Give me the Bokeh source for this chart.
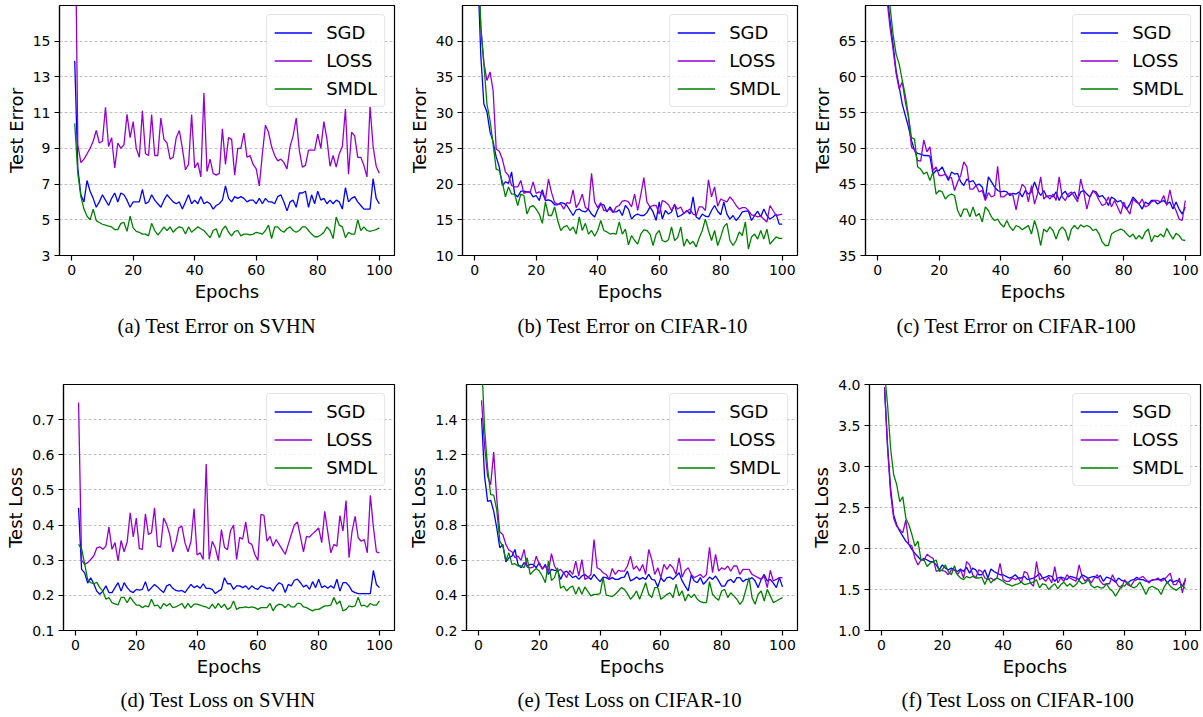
from bokeh.plotting import figure
from bokeh.layouts import column, row
from bokeh.models import FixedTicker, Range1d, Title, PrintfTickFormatter
from bokeh.embed import file_html
from bokeh.resources import INLINE

# ---------------- data ----------------
SERIES_NAMES = ["SGD", "LOSS", "SMDL"]
SERIES_COLORS = ["#0000ff", "#9400d3", "#008000"]
X_TICKS = [0, 20, 40, 60, 80, 100]

# (a) Test Error on SVHN
svhn_err_sgd = [13.9, 7.9, 6.4, 6.0, 7.2, 6.6, 6.2, 5.7, 6.0, 6.4,
                6.1, 5.8, 6.2, 6.5, 6.0, 6.5, 6.4, 6.1, 5.7, 6.0,
                6.0, 6.0, 6.7, 5.9, 6.0, 6.4, 6.1, 5.9, 5.7, 6.1,
                6.4, 6.2, 6.0, 5.9, 6.0, 5.6, 6.0, 6.4, 5.9, 6.1,
                5.9, 6.3, 5.9, 6.0, 5.9, 5.6, 5.8, 5.9, 6.1, 6.9,
                6.2, 6.0, 6.3, 6.2, 6.3, 6.2, 6.0, 6.1, 6.1, 5.9,
                6.2, 5.9, 6.2, 6.0, 6.0, 5.9, 6.3, 6.4, 6.0, 5.5,
                6.0, 6.1, 5.7, 6.5, 6.5, 6.6, 5.7, 6.4, 5.9, 6.6,
                6.1, 6.2, 5.9, 6.1, 5.9, 6.1, 6.0, 5.6, 6.8, 6.0,
                6.2, 6.3, 6.0, 5.8, 5.6, 5.6, 5.6, 7.3, 6.2, 5.9]
svhn_err_loss = [25.0, 9.2, 8.2, 8.4, 8.7, 9.0, 9.4, 10.0, 9.3, 9.4,
                 11.3, 9.1, 9.6, 7.9, 9.3, 9.0, 9.2, 10.9, 9.6, 10.5,
                 9.0, 8.5, 11.1, 8.7, 8.6, 10.9, 8.6, 8.6, 10.7, 9.5,
                 9.3, 8.4, 8.5, 9.6, 10.0, 9.0, 7.8, 8.1, 10.9, 7.9,
                 8.2, 7.4, 12.1, 7.7, 8.4, 7.6, 7.5, 7.6, 10.1, 8.1,
                 9.6, 9.5, 7.5, 9.0, 9.0, 9.85, 8.5, 8.6, 8.1, 7.85,
                 6.9, 8.7, 10.3, 9.9, 9.1, 8.6, 8.3, 8.4, 8.2, 7.85,
                 9.1, 9.7, 10.7, 8.9, 7.95, 8.05, 8.9, 8.9, 8.9, 9.8,
                 9.0, 10.5, 9.5, 8.0, 8.6, 7.95, 8.7, 9.1, 11.2, 7.55,
                 9.9, 9.7, 8.5, 8.5, 8.05, 7.4, 11.35, 9.1, 8.0, 7.6]
svhn_err_smdl = [10.4, 7.6, 6.3, 5.6, 5.2, 5.0, 5.6, 4.95, 4.85, 4.75,
                 4.7, 4.65, 4.6, 4.45, 4.45, 4.8, 4.85, 4.35, 5.2, 4.55,
                 4.35, 4.3, 4.2, 4.2, 4.1, 4.8, 4.4, 4.15, 4.35, 4.6,
                 4.4, 4.6, 4.3, 4.5, 4.6, 4.55, 4.2, 4.6, 4.3, 4.45,
                 4.6, 4.5, 4.4, 4.2, 4.0, 4.4, 4.5, 4.0, 4.45, 4.65,
                 4.3, 4.1, 4.35, 4.4, 4.1, 4.2, 4.2, 4.15, 4.2, 4.3,
                 4.25, 4.2, 4.4, 4.7, 3.95, 4.6, 4.6, 4.4, 4.3, 4.5,
                 4.6, 4.4, 4.3, 4.4, 4.6, 4.6, 4.4, 4.2, 4.05, 4.05,
                 4.15, 4.3, 4.6, 4.4, 3.95, 5.15, 4.7, 4.6, 4.0, 4.3,
                 4.2, 4.2, 5.0, 4.4, 4.6, 4.4, 4.35, 4.4, 4.45, 4.55]

# (b) Test Error on CIFAR-10
c10_err_sgd = [50.0, 38.0, 31.2, 30.1, 27.3, 25.9, 23.8, 22.4, 19.8, 20.3,
               20.1, 21.7, 18.6, 18.2, 19.0, 19.0, 18.9, 18.9, 18.2, 18.4,
               17.7, 19.2, 17.7, 17.8, 17.6, 17.1, 17.1, 17.4, 17.3, 17.0,
               16.3, 15.6, 16.4, 16.5, 16.2, 16.1, 16.5, 15.8, 15.4, 16.4,
               17.2, 17.1, 16.1, 16.8, 16.1, 16.1, 16.4, 15.6, 17.0, 16.5,
               15.1, 15.6, 15.8, 15.6, 15.6, 16.0, 16.8, 16.1, 14.9, 17.5,
               15.1, 16.3, 15.8, 16.1, 17.2, 15.4, 15.6, 15.9, 16.3, 15.8,
               18.2, 15.4, 15.1, 15.8, 15.5, 15.4, 16.3, 17.0, 16.2, 15.7,
               17.5, 15.8, 15.1, 15.6, 14.9, 15.4, 16.1, 16.2, 16.2, 14.9,
               15.6, 16.2, 15.4, 16.5, 15.6, 15.1, 15.4, 15.8, 14.4, 14.4]
c10_err_loss = [52.0, 42.0, 37.0, 34.5, 35.7, 33.1, 24.9, 24.6, 23.5, 21.7,
                21.2, 19.8, 19.6, 19.6, 20.5, 18.7, 18.9, 18.8, 20.3, 18.7,
                18.9, 18.7, 17.8, 20.7, 18.8, 17.4, 17.2, 17.2, 16.5, 17.4,
                17.3, 19.2, 16.7, 17.4, 18.6, 16.7, 16.5, 21.5, 17.5, 16.7,
                17.4, 16.3, 16.3, 16.5, 16.0, 16.8, 17.0, 17.6, 17.7, 17.5,
                16.8, 18.6, 16.3, 18.5, 20.9, 17.5, 16.8, 17.0, 17.0, 15.8,
                17.7, 17.5, 17.1, 16.3, 17.1, 16.5, 16.8, 15.9, 16.2, 16.5,
                15.8, 15.6, 16.8, 16.8, 16.3, 20.6, 18.2, 19.6, 16.9, 17.9,
                17.7, 17.5, 18.2, 17.7, 17.0, 16.5, 16.7, 16.7, 16.3, 15.7,
                15.6, 15.4, 15.5, 15.1, 14.7, 17.0, 16.3, 15.6, 15.7, 15.8]
c10_err_smdl = [55.0, 42.0, 36.8, 31.2, 28.9, 25.6, 22.1, 21.9, 20.3, 18.2,
                19.6, 18.6, 18.6, 17.0, 18.6, 18.4, 15.8, 16.8, 17.0, 16.5,
                15.8, 14.5, 17.5, 15.6, 15.6, 16.8, 14.9, 13.5, 14.0, 14.2,
                13.5, 14.0, 13.0, 15.4, 13.5, 14.5, 13.0, 13.5, 12.7, 13.5,
                14.9, 13.5, 13.3, 13.0, 13.1, 13.0, 14.7, 13.0, 13.7, 11.5,
                12.8, 12.1, 11.6, 13.0, 13.6, 13.5, 13.0, 11.4, 13.0, 13.5,
                12.1, 11.9, 12.2, 14.0, 12.1, 12.5, 14.0, 11.3, 12.3, 11.6,
                12.0, 11.2, 12.5, 13.5, 15.1, 13.5, 12.1, 13.5, 11.4, 12.6,
                14.0, 14.5, 12.1, 11.4, 12.1, 13.3, 12.8, 14.7, 10.9, 12.6,
                13.0, 12.3, 13.5, 12.3, 13.7, 11.6, 12.1, 12.6, 12.4, 12.4]

# (c) Test Error on CIFAR-100
c100_err_sgd = [85.0, 78.0, 72.0, 68.0, 64.6, 60.9, 58.6, 56.2, 54.6, 53.0,
                51.1, 49.7, 49.3, 49.2, 49.0, 49.0, 48.9, 46.4, 46.9, 46.9,
                47.4, 46.4, 45.5, 46.7, 46.4, 46.5, 45.3, 44.8, 45.7, 45.3,
                45.5, 44.8, 45.0, 44.6, 42.9, 46.0, 45.3, 44.6, 44.1, 43.9,
                44.0, 43.9, 43.4, 43.7, 43.6, 43.9, 43.2, 44.1, 43.6, 43.9,
                45.3, 44.1, 43.4, 44.1, 43.2, 43.4, 43.2, 43.9, 42.7, 43.6,
                44.0, 43.2, 43.6, 43.9, 42.9, 43.9, 44.1, 43.6, 43.2, 44.0,
                43.9, 43.2, 43.4, 42.9, 42.0, 43.2, 42.9, 42.5, 42.7, 42.0,
                41.5, 42.2, 43.2, 42.7, 42.2, 41.5, 42.5, 42.2, 42.7, 42.7,
                42.2, 42.5, 42.7, 42.2, 42.5, 41.5, 42.5, 41.5, 40.8, 41.8]
c100_err_loss = [88.0, 80.0, 71.0, 67.0, 63.9, 60.5, 58.3, 59.3, 56.5, 54.4,
                 50.2, 49.8, 48.3, 48.2, 51.2, 49.5, 50.2, 46.9, 47.4, 46.2,
                 46.2, 46.4, 45.9, 45.9, 44.1, 45.3, 46.2, 48.1, 47.4, 44.3,
                 44.3, 44.8, 43.9, 44.1, 42.7, 43.8, 43.2, 43.4, 47.5, 43.2,
                 43.2, 43.6, 43.7, 43.4, 41.4, 43.6, 45.0, 44.5, 42.5, 44.8,
                 42.2, 43.7, 46.0, 42.9, 43.4, 42.9, 43.6, 42.7, 46.0, 43.2,
                 42.7, 43.6, 43.9, 43.2, 42.5, 45.7, 43.9, 41.5, 43.2, 44.1,
                 43.6, 42.7, 42.0, 42.2, 43.2, 41.8, 42.7, 41.8, 40.8, 42.5,
                 41.5, 40.8, 42.9, 42.5, 42.2, 42.9, 41.8, 42.0, 42.5, 42.7,
                 42.7, 42.5, 43.4, 42.0, 44.2, 42.2, 41.3, 40.1, 39.9, 42.7]
c100_err_smdl = [90.0, 82.0, 76.0, 70.0, 66.0, 63.2, 61.8, 59.5, 57.4, 54.6,
                 51.5, 51.3, 47.4, 47.1, 46.4, 46.7, 45.5, 46.7, 43.6, 44.1,
                 43.9, 42.9, 43.4, 43.6, 43.4, 41.3, 40.4, 41.5, 41.5, 40.4,
                 41.8, 40.5, 40.9, 39.7, 41.8, 41.3, 40.4, 39.9, 40.1, 39.4,
                 39.0, 39.9, 39.0, 38.5, 39.2, 39.0, 38.6, 38.9, 39.2, 38.0,
                 39.9, 38.5, 36.4, 38.7, 38.3, 39.0, 38.5, 37.3, 38.5, 39.0,
                 38.5, 37.1, 38.7, 39.2, 38.7, 39.3, 39.0, 39.2, 39.0, 38.5,
                 38.7, 38.0, 36.9, 36.4, 36.4, 38.0, 38.3, 38.5, 38.7, 38.5,
                 38.0, 37.6, 38.0, 37.3, 37.8, 37.3, 38.3, 38.7, 36.9, 37.8,
                 37.6, 38.0, 37.6, 38.8, 38.0, 37.3, 38.1, 37.8, 37.2, 37.1]

# (d) Test Loss on SVHN
svhn_loss_sgd = [0.449, 0.274, 0.264, 0.235, 0.250, 0.233, 0.212, 0.203, 0.212, 0.227,
                 0.208, 0.208, 0.222, 0.236, 0.212, 0.236, 0.222, 0.212, 0.208, 0.217,
                 0.215, 0.217, 0.239, 0.212, 0.222, 0.231, 0.224, 0.215, 0.208, 0.227,
                 0.231, 0.220, 0.214, 0.212, 0.214, 0.208, 0.220, 0.231, 0.222, 0.227,
                 0.220, 0.233, 0.220, 0.220, 0.217, 0.205, 0.212, 0.217, 0.250, 0.233,
                 0.233, 0.217, 0.227, 0.227, 0.222, 0.227, 0.217, 0.227, 0.220, 0.217,
                 0.227, 0.224, 0.220, 0.222, 0.212, 0.227, 0.236, 0.231, 0.208, 0.231,
                 0.227, 0.243, 0.246, 0.236, 0.224, 0.229, 0.217, 0.239, 0.222, 0.246,
                 0.222, 0.227, 0.220, 0.227, 0.220, 0.246, 0.212, 0.236, 0.236, 0.227,
                 0.212, 0.208, 0.205, 0.205, 0.205, 0.205, 0.205, 0.271, 0.231, 0.222]
svhn_loss_loss = [0.749, 0.300, 0.288, 0.293, 0.302, 0.312, 0.335, 0.338, 0.331, 0.340,
                  0.395, 0.331, 0.350, 0.298, 0.356, 0.324, 0.352, 0.435, 0.366, 0.420,
                  0.333, 0.331, 0.432, 0.373, 0.378, 0.449, 0.340, 0.337, 0.420, 0.402,
                  0.373, 0.324, 0.350, 0.392, 0.397, 0.350, 0.324, 0.354, 0.447, 0.315,
                  0.321, 0.302, 0.574, 0.302, 0.354, 0.335, 0.299, 0.387, 0.337, 0.330,
                  0.384, 0.400, 0.302, 0.365, 0.360, 0.409, 0.350, 0.345, 0.317, 0.299,
                  0.430, 0.428, 0.354, 0.368, 0.340, 0.359, 0.345, 0.331, 0.317, 0.345,
                  0.373, 0.400, 0.409, 0.368, 0.324, 0.368, 0.366, 0.375, 0.383, 0.392,
                  0.350, 0.439, 0.380, 0.321, 0.345, 0.340, 0.427, 0.383, 0.470, 0.307,
                  0.383, 0.425, 0.364, 0.354, 0.359, 0.321, 0.485, 0.395, 0.324, 0.321]
svhn_loss_smdl = [0.345, 0.333, 0.290, 0.245, 0.236, 0.233, 0.237, 0.222, 0.212, 0.189,
                  0.194, 0.179, 0.176, 0.173, 0.194, 0.194, 0.179, 0.195, 0.183, 0.172,
                  0.172, 0.165, 0.170, 0.167, 0.189, 0.170, 0.172, 0.162, 0.177, 0.170,
                  0.177, 0.165, 0.167, 0.172, 0.177, 0.163, 0.177, 0.165, 0.175, 0.175,
                  0.172, 0.169, 0.167, 0.162, 0.175, 0.163, 0.177, 0.165, 0.175, 0.160,
                  0.165, 0.184, 0.160, 0.165, 0.165, 0.167, 0.165, 0.167, 0.165, 0.160,
                  0.165, 0.165, 0.165, 0.177, 0.156, 0.170, 0.175, 0.173, 0.165, 0.175,
                  0.167, 0.167, 0.177, 0.177, 0.167, 0.165, 0.160, 0.156, 0.160, 0.160,
                  0.165, 0.170, 0.170, 0.172, 0.194, 0.175, 0.184, 0.156, 0.160, 0.170,
                  0.167, 0.170, 0.195, 0.170, 0.172, 0.167, 0.177, 0.172, 0.172, 0.184]

# (e) Test Loss on CIFAR-10
c10_loss_sgd = [1.410, 1.077, 0.935, 0.941, 0.879, 0.784, 0.671, 0.690, 0.591, 0.614,
                0.623, 0.661, 0.576, 0.557, 0.586, 0.567, 0.576, 0.576, 0.557, 0.586,
                0.548, 0.576, 0.519, 0.548, 0.542, 0.542, 0.491, 0.529, 0.538, 0.519,
                0.501, 0.510, 0.491, 0.510, 0.519, 0.504, 0.491, 0.519, 0.497, 0.478,
                0.504, 0.501, 0.491, 0.501, 0.491, 0.491, 0.501, 0.504, 0.538, 0.482,
                0.491, 0.504, 0.491, 0.501, 0.491, 0.519, 0.491, 0.486, 0.448, 0.501,
                0.478, 0.501, 0.504, 0.491, 0.510, 0.529, 0.482, 0.453, 0.425, 0.515,
                0.482, 0.472, 0.501, 0.463, 0.482, 0.504, 0.491, 0.510, 0.482, 0.453,
                0.453, 0.482, 0.491, 0.472, 0.501, 0.501, 0.478, 0.491, 0.491, 0.501,
                0.482, 0.444, 0.491, 0.519, 0.482, 0.491, 0.470, 0.444, 0.501, 0.448]
c10_loss_loss = [1.510, 1.250, 1.077, 1.030, 1.215, 0.950, 0.761, 0.746, 0.690, 0.657,
                 0.648, 0.614, 0.623, 0.599, 0.661, 0.561, 0.557, 0.561, 0.623, 0.576,
                 0.553, 0.567, 0.535, 0.637, 0.567, 0.538, 0.548, 0.529, 0.501, 0.542,
                 0.519, 0.595, 0.510, 0.604, 0.491, 0.501, 0.519, 0.718, 0.557, 0.548,
                 0.529, 0.519, 0.491, 0.553, 0.519, 0.542, 0.538, 0.538, 0.567, 0.623,
                 0.548, 0.567, 0.538, 0.576, 0.519, 0.661, 0.604, 0.519, 0.557, 0.501,
                 0.576, 0.548, 0.576, 0.557, 0.519, 0.614, 0.504, 0.542, 0.557, 0.519,
                 0.501, 0.510, 0.519, 0.501, 0.519, 0.674, 0.529, 0.633, 0.538, 0.557,
                 0.548, 0.567, 0.538, 0.567, 0.567, 0.519, 0.548, 0.548, 0.548, 0.519,
                 0.510, 0.501, 0.491, 0.510, 0.444, 0.542, 0.482, 0.491, 0.501, 0.501]
c10_loss_smdl = [1.750, 1.350, 1.124, 0.973, 0.970, 0.888, 0.709, 0.680, 0.599, 0.642,
                 0.576, 0.580, 0.567, 0.567, 0.557, 0.614, 0.519, 0.538, 0.553, 0.538,
                 0.510, 0.472, 0.595, 0.485, 0.501, 0.557, 0.440, 0.453, 0.425, 0.444,
                 0.453, 0.406, 0.448, 0.406, 0.448, 0.421, 0.397, 0.406, 0.406, 0.410,
                 0.501, 0.402, 0.397, 0.393, 0.406, 0.425, 0.444, 0.434, 0.410, 0.378,
                 0.397, 0.425, 0.378, 0.425, 0.472, 0.406, 0.387, 0.444, 0.444, 0.378,
                 0.391, 0.406, 0.415, 0.387, 0.463, 0.397, 0.425, 0.368, 0.406, 0.387,
                 0.406, 0.378, 0.364, 0.359, 0.359, 0.478, 0.406, 0.387, 0.372, 0.425,
                 0.434, 0.387, 0.415, 0.397, 0.378, 0.349, 0.372, 0.434, 0.501, 0.387,
                 0.349, 0.406, 0.425, 0.368, 0.434, 0.397, 0.359, 0.368, 0.378, 0.387]

# (f) Test Loss on CIFAR-100
c100_loss_sgd = [3.95, 3.26, 2.73, 2.41, 2.29, 2.21, 2.15, 2.09, 2.05, 1.99,
                 1.94, 1.90, 1.86, 1.88, 1.86, 1.84, 1.84, 1.80, 1.74, 1.80,
                 1.76, 1.74, 1.76, 1.74, 1.72, 1.75, 1.72, 1.77, 1.70, 1.76,
                 1.74, 1.68, 1.68, 1.74, 1.64, 1.75, 1.72, 1.70, 1.68, 1.68,
                 1.66, 1.64, 1.65, 1.68, 1.64, 1.64, 1.66, 1.62, 1.63, 1.64,
                 1.66, 1.70, 1.64, 1.65, 1.67, 1.66, 1.60, 1.64, 1.65, 1.64,
                 1.62, 1.66, 1.65, 1.64, 1.62, 1.68, 1.66, 1.64, 1.65, 1.66,
                 1.64, 1.67, 1.60, 1.65, 1.64, 1.62, 1.59, 1.64, 1.61, 1.60,
                 1.58, 1.61, 1.62, 1.65, 1.62, 1.62, 1.60, 1.60, 1.61, 1.62,
                 1.62, 1.62, 1.64, 1.58, 1.62, 1.59, 1.61, 1.60, 1.54, 1.62]
c100_loss_loss = [3.97, 3.22, 2.67, 2.37, 2.27, 2.23, 2.19, 2.35, 2.05, 2.03,
                  1.88, 1.80, 1.86, 1.86, 1.93, 1.90, 1.88, 1.72, 1.74, 1.73,
                  1.72, 1.68, 1.74, 1.74, 1.68, 1.74, 1.64, 1.84, 1.80, 1.68,
                  1.64, 1.74, 1.72, 1.64, 1.62, 1.64, 1.61, 1.64, 1.82, 1.62,
                  1.60, 1.60, 1.64, 1.62, 1.64, 1.58, 1.72, 1.70, 1.58, 1.54,
                  1.84, 1.62, 1.64, 1.60, 1.65, 1.58, 1.78, 1.58, 1.64, 1.60,
                  1.68, 1.64, 1.62, 1.60, 1.80, 1.66, 1.60, 1.64, 1.58, 1.64,
                  1.68, 1.60, 1.56, 1.57, 1.57, 1.68, 1.60, 1.54, 1.52, 1.62,
                  1.56, 1.54, 1.60, 1.62, 1.64, 1.66, 1.62, 1.58, 1.62, 1.62,
                  1.64, 1.60, 1.62, 1.66, 1.70, 1.56, 1.56, 1.64, 1.46, 1.64]
c100_loss_smdl = [4.15, 3.75, 3.22, 2.90, 2.78, 2.57, 2.63, 2.37, 2.29, 2.17,
                  2.03, 2.09, 1.86, 1.86, 1.78, 1.82, 1.84, 1.86, 1.72, 1.74,
                  1.80, 1.72, 1.68, 1.79, 1.68, 1.64, 1.62, 1.66, 1.64, 1.66,
                  1.64, 1.64, 1.65, 1.56, 1.65, 1.58, 1.62, 1.64, 1.62, 1.60,
                  1.57, 1.56, 1.54, 1.56, 1.57, 1.59, 1.56, 1.57, 1.58, 1.59,
                  1.62, 1.52, 1.57, 1.56, 1.50, 1.54, 1.57, 1.51, 1.56, 1.59,
                  1.54, 1.57, 1.53, 1.56, 1.61, 1.57, 1.58, 1.62, 1.55, 1.52,
                  1.54, 1.52, 1.52, 1.57, 1.51, 1.48, 1.42, 1.48, 1.55, 1.54,
                  1.59, 1.54, 1.52, 1.54, 1.59, 1.52, 1.44, 1.52, 1.54, 1.52,
                  1.50, 1.44, 1.53, 1.59, 1.54, 1.51, 1.49, 1.52, 1.55, 1.51]

# y-axis ticks
yticks_a = [3, 5, 7, 9, 11, 13, 15]
yticks_b = [10, 15, 20, 25, 30, 35, 40]
yticks_c = [35, 40, 45, 50, 55, 60, 65]
yticks_d = [0.1, 0.2, 0.3, 0.4, 0.5, 0.6, 0.7]
yticks_e = [0.2, 0.4, 0.6, 0.8, 1.0, 1.2, 1.4]
yticks_f = [1.0, 1.5, 2.0, 2.5, 3.0, 3.5, 4.0]

panels = [
    dict(series=[svhn_err_sgd, svhn_err_loss, svhn_err_smdl], ylim=(3, 17), yticks=yticks_a, fmt="%d",
         ylabel="Test Error", caption="(a) Test Error on SVHN"),
    dict(series=[c10_err_sgd, c10_err_loss, c10_err_smdl], ylim=(10, 45), yticks=yticks_b, fmt="%d",
         ylabel="Test Error", caption="(b) Test Error on CIFAR-10"),
    dict(series=[c100_err_sgd, c100_err_loss, c100_err_smdl], ylim=(35, 70), yticks=yticks_c, fmt="%d",
         ylabel="Test Error", caption="(c) Test Error on CIFAR-100"),
    dict(series=[svhn_loss_sgd, svhn_loss_loss, svhn_loss_smdl], ylim=(0.1, 0.8), yticks=yticks_d, fmt="%.1f",
         ylabel="Test Loss", caption="(d) Test Loss on SVHN"),
    dict(series=[c10_loss_sgd, c10_loss_loss, c10_loss_smdl], ylim=(0.2, 1.6), yticks=yticks_e, fmt="%.1f",
         ylabel="Test Loss", caption="(e) Test Loss on CIFAR-10"),
    dict(series=[c100_loss_sgd, c100_loss_loss, c100_loss_smdl], ylim=(1.0, 4.0), yticks=yticks_f, fmt="%.1f",
         ylabel="Test Loss", caption="(f) Test Loss on CIFAR-100"),
]

# geometry: left border, frame width, right border, top border, frame height, bottom border,
#           caption offset, caption standoff
geoms = [
    (59, 335, 4, 5, 250, 119, 58, 16),
    (64, 335, 4, 5, 250, 119, 55, 16),
    (64, 335, 3, 5, 250, 119, 31, 16),
    (63, 331, 4, 10, 247, 86, 57, 14),
    (68, 331, 4, 10, 247, 86, 51, 14),
    (68, 331, 2, 10, 247, 86, 32, 14),
]

TICK_FONT = "DejaVu Sans"


def make_fig(spec, geom):
    L, fw, R, T, fh, B, off, so = geom
    p = figure(width=L + fw + R, height=T + fh + B,
               x_range=Range1d(-3.95, 104.95), y_range=Range1d(*spec["ylim"]),
               output_backend="svg", toolbar_location=None, title=None,
               min_border_left=L, min_border_right=R, min_border_top=T, min_border_bottom=B)
    p.background_fill_color = "white"
    p.border_fill_color = "white"
    for vals, name, col in zip(spec["series"], SERIES_NAMES, SERIES_COLORS):
        xs = list(range(1, len(vals) + 1))
        p.line(xs, vals, line_color=col, line_width=1.3, legend_label=name)

    p.xaxis.ticker = FixedTicker(ticks=X_TICKS)
    p.xaxis.formatter = PrintfTickFormatter(format="%d")
    p.yaxis.ticker = FixedTicker(ticks=spec["yticks"])
    p.yaxis.formatter = PrintfTickFormatter(format=spec["fmt"])
    p.xaxis.axis_label = "Epochs"
    p.yaxis.axis_label = spec["ylabel"]
    for ax in (p.xaxis, p.yaxis):
        ax.major_label_text_font = TICK_FONT
        ax.major_label_text_font_size = "14px"
        ax.major_label_text_color = "black"
        ax.axis_label_text_font = TICK_FONT
        ax.axis_label_text_font_size = "18px"
        ax.axis_label_text_font_style = "normal"
        ax.axis_label_text_color = "black"
        ax.major_tick_out = 5
        ax.major_tick_in = 0
        ax.minor_tick_out = 0
        ax.minor_tick_in = 0
        ax.axis_line_color = "black"
        ax.axis_line_width = 1.2
        ax.major_tick_line_color = "black"
        ax.major_tick_line_width = 1.2
        ax.major_label_standoff = 4
        ax.axis_label_standoff = 3

    p.xgrid.visible = False
    p.ygrid.grid_line_color = "#b0b0b0"
    p.ygrid.grid_line_dash = "3 2"
    p.ygrid.grid_line_width = 0.8

    p.outline_line_color = "black"
    p.outline_line_width = 1.2
    p.outline_line_alpha = 1.0

    lg = p.legend[0]
    lg.location = "top_right"
    lg.label_text_font = TICK_FONT
    lg.label_text_font_size = "18px"
    lg.label_text_color = "black"
    lg.glyph_width = 38
    lg.glyph_height = 21
    lg.label_height = 21
    lg.label_standoff = 14
    lg.spacing = 7
    lg.padding = 7
    lg.margin = 9
    lg.border_line_color = "#cccccc"
    lg.border_line_width = 1
    lg.background_fill_color = "white"
    lg.background_fill_alpha = 0.8
    if "border_radius" in lg.properties():
        lg.border_radius = 4

    t = Title(text=spec["caption"], align="left", offset=off, standoff=so,
              text_font="Liberation Serif", text_font_size="20.7px",
              text_font_style="normal", text_color="black")
    p.add_layout(t, "below")
    return p


figs = [make_fig(s, g) for s, g in zip(panels, geoms)]
layout = column(row(*figs[:3]), row(*figs[3:]))

open("out.html", "w").write(file_html(layout, INLINE))
